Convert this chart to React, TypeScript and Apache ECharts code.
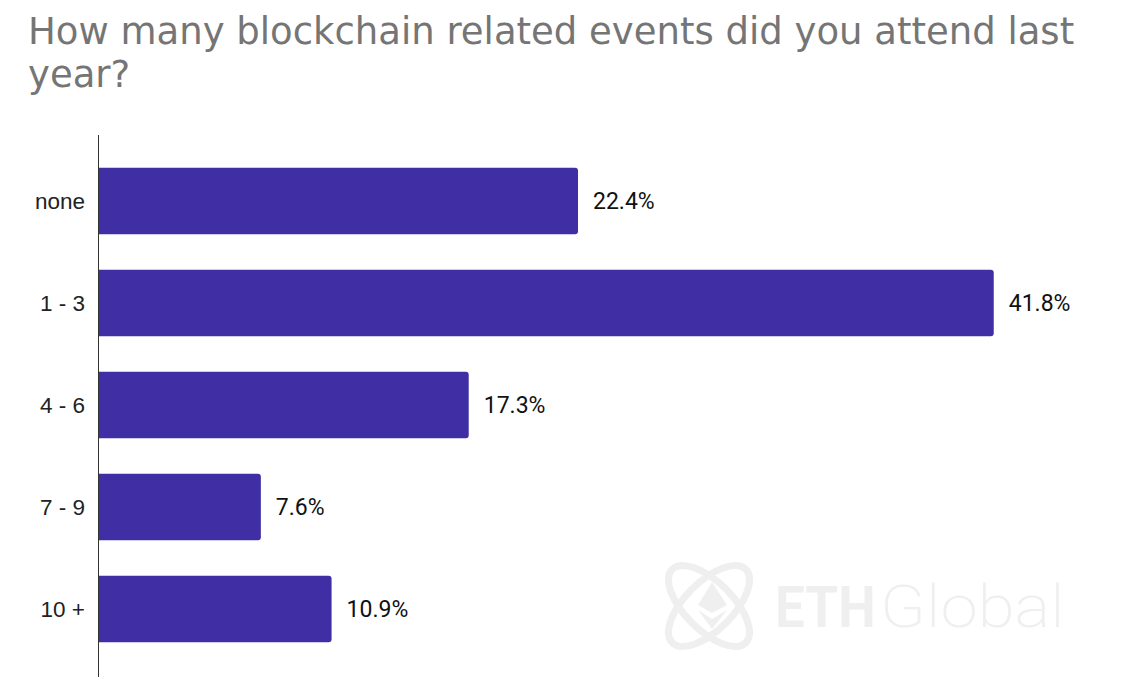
import React, { useEffect, useRef } from "react";
import * as echarts from "echarts";

const categories = ["none", "1 - 3", "4 - 6", "7 - 9", "10 +"];
const values = [22.4, 41.8, 17.3, 7.6, 10.9];
const titleText = "How many blockchain related events did you attend last\nyear?";

export default function App() {
  const ref = useRef<HTMLDivElement>(null);
  useEffect(() => {
    if (!ref.current) return;
    const chart = echarts.init(ref.current, undefined, { renderer: "svg" });
    const wm = "#efefef";
    chart.setOption({
      animation: false,
      backgroundColor: "#ffffff",
      title: {
        text: titleText,
        left: 28,
        top: 10,
        padding: 0,
        textStyle: {
          fontFamily: "DejaVu Sans",
          fontSize: 37,
          fontWeight: "normal",
          color: "#757575",
          lineHeight: 43,
        },
      },
      grid: { left: 98, right: 13.4, top: 150, bottom: 39, containLabel: false },
      xAxis: {
        type: "value",
        min: 0,
        max: 48,
        show: false,
      },
      yAxis: {
        type: "category",
        data: categories,
        inverse: true,
        axisLine: { show: false },
        axisTick: { show: false },
        axisLabel: {
          fontFamily: "Liberation Sans",
          fontSize: 22.5,
          color: "#222222",
          margin: 13,
        },
      },
      graphic: [
        { type: "line", shape: { x1: 98.5, y1: 135, x2: 98.5, y2: 677 }, style: { stroke: "#333333", lineWidth: 1 }, z: 10 },
        { type: "ellipse", x: 709, y: 606, rotation: Math.PI / 4, shape: { cx: 0, cy: 0, rx: 52, ry: 24 }, style: { fill: "none", stroke: wm, lineWidth: 7 }, z: -1 },
        { type: "ellipse", x: 709, y: 606, rotation: -Math.PI / 4, shape: { cx: 0, cy: 0, rx: 52, ry: 24 }, style: { fill: "none", stroke: wm, lineWidth: 7 }, z: -1 },
        { type: "polygon", shape: { points: [[712, 582], [727, 605], [712, 613], [698, 605]] }, style: { fill: wm }, z: -1 },
        { type: "polygon", shape: { points: [[698, 610], [712, 619], [727, 610], [712, 629]] }, style: { fill: wm }, z: -1 },
        { type: "text", x: 775, y: 607, scaleX: 0.93, style: { text: "ETH", fontFamily: "Roboto", fontWeight: "bold", fontSize: 57, fill: wm, textVerticalAlign: "middle" }, z: -1 },
        { type: "text", x: 880, y: 607, scaleX: 1.12, style: { text: "Global", fontFamily: "Roboto", fontWeight: 200, fontSize: 60, fill: wm, textVerticalAlign: "middle" }, z: -1 },
      ],
      series: [
        {
          type: "bar",
          data: values,
          barCategoryGap: "35%",
          itemStyle: { color: "#402fa4", borderRadius: [0, 3, 3, 0] },
          label: {
            show: true,
            position: "right",
            distance: 15,
            fontFamily: "Roboto",
            fontSize: 23,
            color: "#111111",
            formatter: (p: any) => p.value.toFixed(1) + "%",
          },
        },
      ],
    });
    return () => chart.dispose();
  }, []);
  return (
    <div
      ref={ref}
      style={{ position: "fixed", left: 0, top: 0, width: 1140, height: 699 }}
    />
  );
}
